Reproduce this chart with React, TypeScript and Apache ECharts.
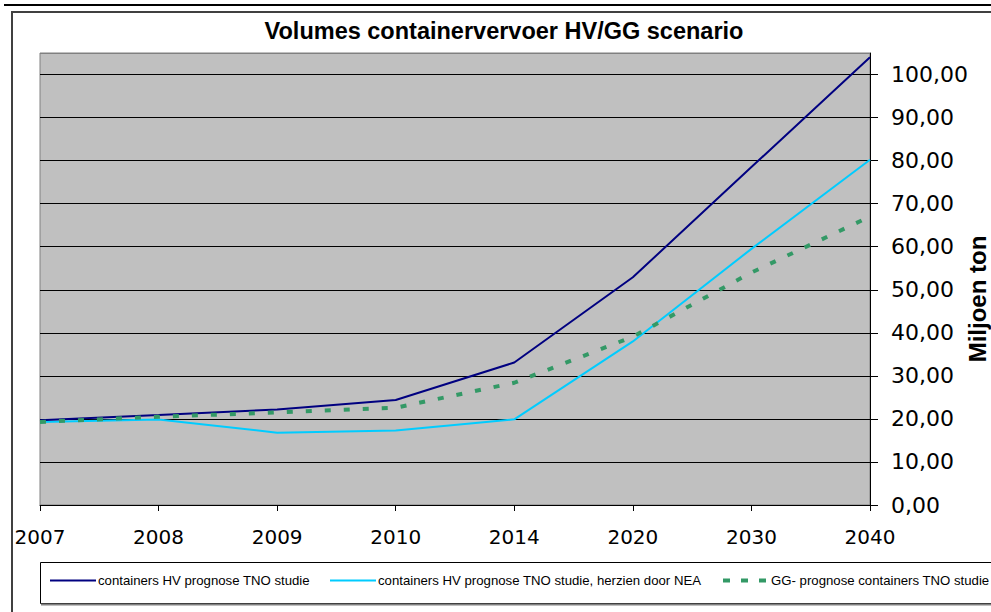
import React, { useEffect, useRef } from "react";
import * as echarts from "echarts";

const titleText = "Volumes containervervoer HV/GG scenario";
const yAxisName = "Miljoen ton";
const categories = ["2007", "2008", "2009", "2010", "2014", "2020", "2030", "2040"];
const seriesNames = [
  "containers HV prognose TNO studie",
  "containers HV prognose TNO studie, herzien door NEA",
  "GG- prognose containers TNO studie",
];
const hvTNO = [19.7, 20.9, 22.2, 24.4, 33.1, 52.9, 78.5, 104];
const hvNEA = [19.3, 19.85, 16.8, 17.3, 19.9, 38, 59.5, 80.2];
const ggTNO = [19.3, 20.5, 21.5, 22.6, 28.4, 39.1, 54, 67];
const yMin = 0;
const yMax = 105;
const yStep = 10;

const colors = ["#000080", "#00CCFF", "#339966"];

export default function App() {
  const ref = useRef<HTMLDivElement>(null);
  useEffect(() => {
    document.body.style.margin = "0";
    if (!ref.current) return;
    const chart = echarts.init(ref.current, undefined, { renderer: "svg" });
    const labelFont = "'DejaVu Sans', Verdana, sans-serif";
    const arial = "'Liberation Sans', Arial, sans-serif";
    const splitColors: string[] = [];
    for (let v = yMin; v <= yMax; v += yStep) splitColors.push("#000000");
    splitColors.push("#808080");
    const legendBase = {
      top: 574,
      itemWidth: 46,
      itemHeight: 14,
      padding: 0,
      itemStyle: { opacity: 0 },
      textStyle: {
        fontFamily: arial,
        fontSize: 13.2,
        color: "#000",
        padding: [0, 0, 0, -3],
      },
      selectedMode: false,
    };
    chart.setOption({
      animation: false,
      backgroundColor: "#ffffff",
      title: {
        text: titleText,
        left: 504,
        top: 19,
        padding: 0,
        textAlign: "center",
        textStyle: { fontFamily: arial, fontSize: 23.5, fontWeight: "bold", color: "#000" },
      },
      grid: {
        left: 40,
        right: 121,
        top: 53,
        bottom: 107,
        outerBoundsMode: "none",
        containLabel: false,
        show: true,
        backgroundColor: "#C0C0C0",
        borderColor: "#808080",
        borderWidth: 1,
      },
      legend: [
        { ...legendBase, left: 49, data: [seriesNames[0]] },
        { ...legendBase, left: 329, data: [seriesNames[1]] },
        {
          ...legendBase,
          left: 721,
          data: [seriesNames[2]],
          lineStyle: { width: 4, type: [7, 11] },
        },
      ],
      xAxis: {
        type: "category",
        data: categories,
        boundaryGap: false,
        axisLine: { lineStyle: { color: "#000", width: 1 } },
        axisTick: { show: true, length: 6, lineStyle: { color: "#000" }, alignWithLabel: true },
        axisLabel: { fontFamily: labelFont, fontSize: 20, color: "#000", margin: 22 },
        splitLine: { show: false },
      },
      yAxis: {
        type: "value",
        position: "right",
        min: yMin,
        max: yMax,
        interval: yStep,
        name: yAxisName,
        nameLocation: "middle",
        nameRotate: 90,
        nameGap: 95,
        nameMoveOverlap: false,
        nameTextStyle: {
          fontFamily: arial,
          fontSize: 24,
          fontWeight: "bold",
          color: "#000",
          padding: [0, 40, 0, 0],
        },
        axisLine: { show: true, lineStyle: { color: "#000", width: 1 } },
        axisTick: { show: true, length: 8, lineStyle: { color: "#000" } },
        axisLabel: {
          fontFamily: labelFont,
          fontSize: 22,
          color: "#000",
          margin: 21,
          showMaxLabel: false,
          formatter: (v: number) => (v % yStep === 0 ? v.toFixed(2).replace(".", ",") : ""),
        },
        splitLine: { show: true, lineStyle: { color: splitColors, width: 1 } },
      },
      graphic: [
        {
          type: "line",
          shape: { x1: 4, y1: 5, x2: 991, y2: 5 },
          style: { stroke: "#000", lineWidth: 2 },
          silent: true,
        },
        {
          type: "polyline",
          shape: { points: [[12, 640], [12, 12], [1000, 12]] },
          style: { stroke: "#404040", lineWidth: 2, fill: "none" },
          silent: true,
        },
        {
          type: "rect",
          shape: { x: 40.5, y: 562.5, width: 1000, height: 41 },
          style: { stroke: "#000", lineWidth: 1, fill: "none" },
          silent: true,
        },
        {
          type: "line",
          shape: { x1: 41, y1: 604.5, x2: 991, y2: 604.5 },
          style: { stroke: "#808080", lineWidth: 2 },
          silent: true,
        },
      ],
      series: [
        {
          name: seriesNames[0],
          type: "line",
          data: hvTNO,
          symbol: "none",
          lineStyle: { color: colors[0], width: 2 },
          itemStyle: { color: colors[0] },
          z: 3,
        },
        {
          name: seriesNames[1],
          type: "line",
          data: hvNEA,
          symbol: "none",
          lineStyle: { color: colors[1], width: 2 },
          itemStyle: { color: colors[1] },
          z: 2,
        },
        {
          name: seriesNames[2],
          type: "line",
          data: ggTNO,
          symbol: "none",
          lineStyle: { color: colors[2], width: 4, type: [6, 13] },
          itemStyle: { color: colors[2] },
          z: 4,
        },
      ],
    });
    return () => chart.dispose();
  }, []);
  return <div ref={ref} style={{ width: 991, height: 612 }} />;
}
